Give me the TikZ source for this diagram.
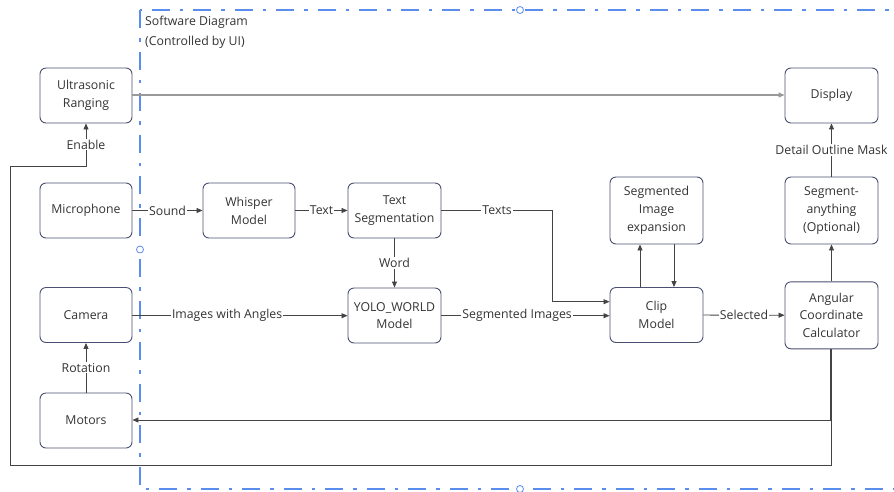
\documentclass[tikz,border=0pt]{standalone}
\usepackage{fontspec}
\setmainfont{Open Sans}
\usetikzlibrary{arrows.meta}

\definecolor{framecol}{HTML}{5B8DEF}
\definecolor{boxcol}{HTML}{4A4E72}
\definecolor{linecol}{HTML}{444444}
\definecolor{textcol}{HTML}{333333}

\tikzset{
  block/.style={draw=boxcol, line width=0.9pt, rounded corners=6pt, minimum width=92pt, minimum height=55pt, inner sep=2pt, align=center, text=textcol, font=\fontsize{12.3}{17.8}\selectfont},
  tallblock/.style={block, minimum height=67pt},
  link/.style={draw=linecol, line width=0.8pt, -{Triangle[length=6pt,width=5pt]}},
  tag/.style={fill=white, inner sep=1pt, text=textcol, font=\fontsize{12.3}{14}\selectfont},
}

\begin{document}
\begin{tikzpicture}[x=1pt, y=-1pt]
            \useasboundingbox (0,0) rectangle (894,491);
            % software frame
            \draw [framecol, line width=1.7pt, dash pattern=on 18pt off 10pt on 3.5pt off 10pt] (140,10) rectangle (900,489);
            \foreach \p in {(520,10), (140,249.5), (520,489)}
              \draw [framecol, fill=white, line width=0.8pt] \p circle (3.5);
            \node [anchor=north west, align=left, inner sep=0pt, text=textcol, font=\fontsize{12.3}{20}\selectfont] (title) at (145,16) {Software Diagram\\(Controlled by UI)};
            % blocks
            \node [block] (ultra) at (86,95.5) {Ultrasonic\\Ranging};
            \node [block] (micro) at (86,210.5) {Microphone};
            \node [block] (camera) at (86,315) {Camera};
            \node [block] (motors) at (86,420.5) {Motors};
            \node [block] (whisper) at (249,210.5) {Whisper\\Model};
            \node [block, minimum width=93pt] (textseg) at (394.5,210.5) {Text\\Segmentation};
            \node [block, minimum width=93pt] (yolo) at (394.5,315.5) {YOLO\_WORLD\\Model};
            \node [tallblock, minimum width=93pt] (expand) at (656.5,210.5) {Segmented\\Image\\expansion};
            \node [block, minimum width=93pt] (clip) at (656.5,315) {Clip\\Model};
            \node [block, minimum width=93pt] (display) at (831.5,95.5) {Display};
            \node [tallblock, minimum width=93pt] (sam) at (831.5,210.5) {Segment-\\anything\\(Optional)};
            \node [tallblock, minimum width=93pt] (angle) at (831.5,315.3) {Angular\\Coordinate\\Calculator};
            % links
            \draw [link, draw=gray!80, line width=1.2pt] (ultra.east |- 0,95) -- (display.west |- 0,95);
            \draw [link] (micro) -- node [tag] {Sound} (whisper);
            \draw [link] (whisper) -- node [tag] {Text} (textseg);
            \draw [link] (textseg) -- node [tag] {Word} (yolo);
            \draw [link] (textseg.east) -- node [tag] {Texts} (552.7,210.5) |- (clip.west |- 0,301.7);
            \draw [link] (camera.east |- 0,315.7) -- node [tag, pos=.44] {Images with Angles} (yolo.west |- 0,315.7);
            \draw [link] (yolo.east |- 0,315.7) -- node [tag, pos=.45] {Segmented Images} (clip.west |- 0,315.7);
            \draw [link] (clip.north -| 640,0) -- (expand.south -| 640,0);
            \draw [link] (expand.south -| 674,0) -- (clip.north -| 674,0);
            \draw [link] (clip) -- node [tag] {Selected} (angle);
            \draw [link] (angle) -- (sam);
            \draw [link] (sam) -- node [tag] {Detail Outline Mask} (display);
            \draw [link] (motors) -- node [tag] {Rotation} (camera);
            \draw [link] (angle.south -| 830.7,0) |- (motors.east |- 0,420);
            \draw [link] (angle.south -| 831.7,0) -- (831.7,465) -- (10.7,465) -- (10.7,166) -| node [tag, pos=.75] {Enable} (ultra.south);
\end{tikzpicture}
\end{document}
